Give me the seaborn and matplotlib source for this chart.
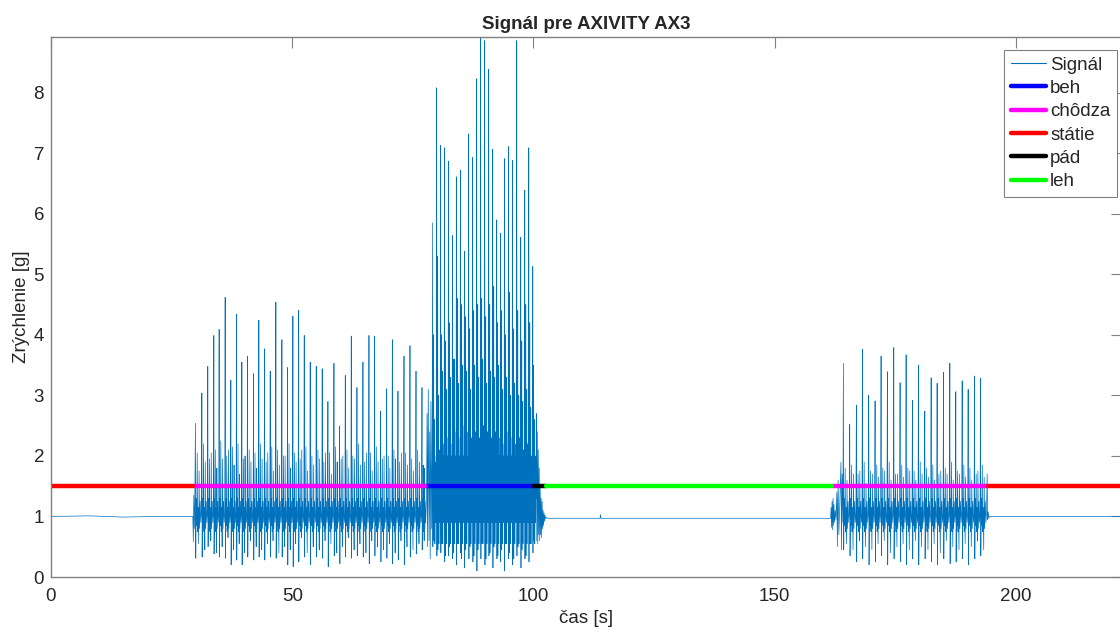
import numpy as np
import pandas as pd
import matplotlib
matplotlib.use("Agg")
import matplotlib.pyplot as plt
import seaborn as sns
from matplotlib.lines import Line2D

# ---------------- data ----------------
# walking 1 (chôdza): per stride big peak, deep trough, two medium peaks, second trough
walk1_peak_t = [29.94, 31.27, 32.50, 33.75, 34.85, 36.10, 37.28, 38.45, 39.56, 40.73,
                41.98, 43.08, 44.26, 45.44, 46.61, 47.86, 49.03, 50.14, 51.31, 52.49,
                53.73, 54.98, 56.22, 57.40, 58.65, 59.82, 61.00, 62.24, 63.42, 64.66,
                65.91, 67.08, 68.33, 69.57, 70.75, 71.92, 73.17, 74.41, 75.66, 76.90]
walk1_peak_g = [2.54, 3.04, 3.48, 3.99, 4.09, 4.62, 3.25, 4.34, 3.55, 3.65,
                3.36, 4.24, 3.77, 3.40, 4.54, 3.92, 3.46, 4.31, 4.41, 3.99,
                3.55, 3.48, 3.44, 2.90, 3.53, 2.49, 3.33, 3.98, 3.13, 3.55,
                3.99, 3.98, 2.74, 3.11, 3.92, 3.07, 3.65, 3.82, 3.40, 3.13]
walk1_trough_g = [0.31, 0.33, 0.50, 0.38, 0.33, 0.31, 0.20, 0.28, 0.20, 0.33,
                  0.28, 0.33, 0.28, 0.33, 0.31, 0.33, 0.20, 0.17, 0.25, 0.33,
                  0.20, 0.33, 0.31, 0.17, 0.35, 0.22, 0.33, 0.31, 0.35, 0.33,
                  0.22, 0.35, 0.25, 0.31, 0.22, 0.28, 0.20, 0.33, 0.38, 0.45]
walk1_med1_g = [2.05, 2.20, 1.95, 2.10, 2.25, 2.00, 2.15, 2.20, 1.95, 2.10,
                2.05, 2.20, 1.90, 2.15, 2.10, 2.00, 2.20, 2.05, 1.95, 2.15,
                2.00, 2.10, 1.90, 2.05, 2.15, 1.95, 2.10, 2.00, 2.20, 1.90,
                2.05, 2.15, 1.95, 2.00, 2.10, 1.90, 2.05, 1.95, 2.10, 1.85]
walk1_med2_g = [1.75, 1.90, 2.05, 1.80, 1.95, 2.10, 1.85, 1.70, 2.00, 1.90,
                1.80, 1.95, 2.05, 1.75, 1.85, 2.00, 1.80, 1.90, 2.10, 1.75,
                1.85, 1.95, 2.05, 1.70, 1.90, 2.00, 1.80, 1.95, 1.85, 2.05,
                1.75, 1.90, 2.00, 1.80, 1.95, 2.05, 1.85, 1.75, 1.90, 1.80]
walk1_trough2_g = [0.55, 0.45, 0.60, 0.40, 0.50, 0.65, 0.45, 0.55, 0.40, 0.60,
                   0.50, 0.45, 0.55, 0.60, 0.40, 0.50, 0.45, 0.55, 0.65, 0.40,
                   0.50, 0.45, 0.60, 0.55, 0.40, 0.50, 0.65, 0.45, 0.55, 0.40,
                   0.60, 0.50, 0.45, 0.55, 0.40, 0.60, 0.50, 0.45, 0.55, 0.60]
walk1_end = 77.8

# running (beh)
run_peak_t = [79.11, 79.94, 80.77, 81.54, 82.37, 83.20, 84.02, 84.85, 85.68, 86.58,
              87.41, 88.24, 89.07, 89.90, 90.73, 91.56, 92.39, 93.15, 93.98, 94.81,
              95.64, 96.54, 97.37, 98.20, 99.03, 99.86]
run_peak_g = [5.85, 8.08, 7.13, 7.09, 6.87, 5.64, 6.61, 6.72, 5.38, 7.32,
              6.93, 8.23, 8.92, 8.86, 8.39, 7.07, 5.90, 5.68, 6.91, 7.11,
              6.88, 8.86, 5.61, 6.39, 7.09, 5.13]
run_second_g = [4.0, 5.3, 4.0, 3.9, 4.2, 3.6, 4.6, 4.5, 4.3, 4.1,
                4.4, 4.5, 4.6, 4.3, 4.5, 4.8, 4.2, 4.4, 4.0, 4.7,
                4.1, 4.4, 3.9, 4.5, 4.2, 3.5]
run_trough_g = [0.50, 0.35, 0.40, 0.25, 0.35, 0.30, 0.20, 0.40, 0.15, 0.30,
                0.25, 0.10, 0.30, 0.20, 0.35, 0.15, 0.30, 0.25, 0.10, 0.30,
                0.20, 0.35, 0.15, 0.30, 0.25, 0.40]
run_med1_g = [2.9, 3.3, 3.6, 3.4, 3.8, 3.5, 3.9, 3.7, 3.6, 3.9,
              3.8, 3.5, 3.9, 3.7, 3.6, 3.8, 3.4, 3.7, 3.5, 3.6,
              3.3, 3.5, 3.2, 3.4, 3.0, 2.8]
run_med2_g = [2.1, 2.3, 2.4, 2.5, 2.5, 2.6, 2.6, 2.5, 2.7, 2.6,
              2.5, 2.7, 2.6, 2.6, 2.5, 2.6, 2.5, 2.6, 2.4, 2.5,
              2.4, 2.5, 2.3, 2.4, 2.3, 2.2]
run_med3_g = [1.9, 2.1, 2.2, 2.3, 2.2, 2.4, 2.3, 2.5, 2.4, 2.3,
              2.4, 2.3, 2.5, 2.4, 2.3, 2.4, 2.3, 2.2, 2.4, 2.3,
              2.2, 2.3, 2.1, 2.2, 2.0, 1.9]
run_third_g = [2.6, 3.0, 3.4, 3.1, 3.3, 3.6, 3.2, 3.5, 3.4, 3.1,
               3.5, 3.3, 3.6, 3.2, 3.4, 3.3, 3.5, 3.1, 3.3, 3.0,
               3.2, 3.0, 2.9, 3.1, 2.8, 2.6]
run_trough2_g = [0.60, 0.45, 0.55, 0.35, 0.50, 0.40, 0.55, 0.30, 0.45, 0.50,
                 0.35, 0.45, 0.55, 0.30, 0.40, 0.50, 0.35, 0.45, 0.55, 0.40,
                 0.30, 0.50, 0.45, 0.35, 0.55, 0.60]
run_end = 100.6

# walking 2 (chôdza)
walk2_peak_t = [164.25, 165.56, 166.94, 168.19, 169.50, 170.82, 172.06, 173.37, 174.69, 176.00,
                177.25, 178.56, 179.81, 181.12, 182.44, 183.68, 185.00, 186.31, 187.55, 188.87,
                190.11, 191.43, 192.67]
walk2_peak_g = [3.53, 2.52, 2.84, 3.76, 3.00, 2.91, 3.65, 3.39, 3.79, 3.21,
                3.67, 2.92, 3.50, 2.74, 3.29, 3.20, 3.38, 3.53, 3.06, 3.24,
                3.10, 3.32, 3.28]
walk2_trough_g = [0.45, 0.35, 0.25, 0.30, 0.20, 0.25, 0.35, 0.20, 0.30, 0.25,
                  0.20, 0.30, 0.20, 0.30, 0.25, 0.20, 0.30, 0.22, 0.25, 0.30,
                  0.20, 0.30, 0.35]
walk2_med1_g = [1.80, 1.85, 1.70, 1.90, 1.75, 1.85, 1.80, 1.90, 1.70, 1.85,
                1.80, 1.75, 1.90, 1.80, 1.85, 1.70, 1.80, 1.90, 1.75, 1.85,
                1.80, 1.70, 1.85]
walk2_med2_g = [1.60, 1.70, 1.75, 1.55, 1.70, 1.65, 1.75, 1.60, 1.70, 1.65,
                1.75, 1.60, 1.70, 1.65, 1.60, 1.75, 1.70, 1.60, 1.70, 1.65,
                1.60, 1.75, 1.65]
walk2_trough2_g = [0.55, 0.45, 0.60, 0.50, 0.45, 0.55, 0.60, 0.40, 0.50, 0.55,
                   0.45, 0.60, 0.50, 0.45, 0.55, 0.40, 0.60, 0.50, 0.45, 0.55,
                   0.50, 0.60, 0.45]
walk2_end = 194.0

# shape of one stride (fraction of stride, value or key of the per-stride arrays)
walk_stride_frac = [0.00, 0.05, 0.12, 0.20, 0.28, 0.34, 0.42, 0.50, 0.57, 0.64, 0.74, 0.84, 0.93]
walk_stride_g = ["P", "T", 1.30, 0.85, "M", 0.75, 1.15, "U", "N", 0.80, 1.25, 0.90, 1.05]
run_stride_frac = [0.00, 0.06, 0.12, 0.18, 0.25, 0.31, 0.37, 0.43, 0.50, 0.56,
                   0.62, 0.68, 0.75, 0.81, 0.88, 0.94]
run_stride_g = ["P", "T", "M", 0.70, "S", "U", "N", 1.10, "R", 0.55,
                "Q", 1.20, 1.80, 0.90, 2.00, 1.30]

# quiet parts and transitions
start_t = [0.0, 8.0, 15.0, 22.0, 29.4]
start_g = [1.0, 1.01, 0.99, 1.0, 1.0]
walk1_lead_t = [29.5, 29.6, 29.7, 29.8]
walk1_lead_g = [0.58, 1.35, 0.80, 1.20]
run_lead_t = [77.85, 77.95, 78.05, 78.2, 78.35, 78.5, 78.6, 78.75, 78.9, 79.0]
run_lead_g = [1.4, 2.7, 0.5, 3.1, 0.6, 2.4, 0.3, 2.9, 0.8, 1.9]
fall_t = [100.6, 100.7, 100.8, 100.9, 101.0, 101.1, 101.2, 101.3, 101.4, 101.5,
          101.6, 101.7, 101.8, 101.9, 102.0, 102.1, 102.2, 102.3, 102.4, 102.55, 102.7]
fall_g = [2.7, 0.6, 2.4, 0.55, 2.1, 0.7, 1.8, 0.6, 1.5, 0.7,
          1.3, 0.65, 1.25, 0.8, 1.1, 0.85, 1.06, 0.92, 1.02, 0.96, 0.98]
lie_t = [103.0, 113.8, 113.9, 114.0, 130.0, 145.0, 161.5]
lie_g = [0.97, 0.97, 1.03, 0.97, 0.97, 0.97, 0.97]
walk2_lead_t = [161.6, 161.7, 161.8, 161.9, 162.0, 162.1, 162.2, 162.3, 162.4, 162.55,
                162.7, 162.9, 163.0, 163.15, 163.3, 163.5, 163.75, 163.85, 164.0, 164.15]
walk2_lead_g = [0.97, 1.15, 0.82, 1.25, 0.78, 1.30, 0.85, 1.20, 0.90, 1.10,
                0.95, 1.40, 0.50, 1.60, 0.70, 1.20, 1.90, 0.45, 1.70, 0.90]
tail_t = [194.05, 194.15, 194.25, 194.4, 194.6, 205.0, 215.0, 222.0]
tail_g = [1.70, 0.95, 1.08, 0.97, 1.0, 1.0, 1.0, 1.0]

# activity labels
label_names = ["státie", "chôdza", "beh", "pád", "leh", "chôdza", "státie"]
label_start = [0.0, 29.5, 77.6, 100.1, 102.6, 161.8, 194.3]
label_end = [29.5, 77.6, 100.1, 102.6, 161.8, 194.3, 222.0]
label_level = 1.5

legend_order = ["beh", "chôdza", "státie", "pád", "leh"]
legend_colors = ["#0000FF", "#FF00FF", "#FF0000", "#000000", "#00FF00"]

x_ticks = [0, 50, 100, 150, 200]
y_ticks = [0, 1, 2, 3, 4, 5, 6, 7, 8]


# ---------------- build the signal table ----------------
def strides(peak_t, end, frac, shape, values):
    ts, gs = [], []
    for i, t0 in enumerate(peak_t):
        t1 = peak_t[i + 1] if i + 1 < len(peak_t) else end
        for f, v in zip(frac, shape):
            if isinstance(v, str):
                v = values[v][i]
            ts.append(t0 + f * (t1 - t0))
            gs.append(v)
    return ts, gs


w1_t, w1_g = strides(walk1_peak_t, walk1_end, walk_stride_frac, walk_stride_g,
                     {"P": walk1_peak_g, "T": walk1_trough_g, "M": walk1_med1_g,
                      "N": walk1_med2_g, "U": walk1_trough2_g})
r_t, r_g = strides(run_peak_t, run_end, run_stride_frac, run_stride_g,
                   {"P": run_peak_g, "T": run_trough_g, "M": run_med1_g,
                    "N": run_med2_g, "U": run_trough2_g, "S": run_second_g,
                    "R": run_third_g, "Q": run_med3_g})
w2_t, w2_g = strides(walk2_peak_t, walk2_end, walk_stride_frac, walk_stride_g,
                     {"P": walk2_peak_g, "T": walk2_trough_g, "M": walk2_med1_g,
                      "N": walk2_med2_g, "U": walk2_trough2_g})

sig_t = (start_t + walk1_lead_t + w1_t + run_lead_t + r_t + fall_t + lie_t
         + walk2_lead_t + w2_t + tail_t)
sig_g = (start_g + walk1_lead_g + w1_g + run_lead_g + r_g + fall_g + lie_g
         + walk2_lead_g + w2_g + tail_g)
signal = pd.DataFrame({"t": sig_t, "g": sig_g})

rows = []
for k, (n, a, b) in enumerate(zip(label_names, label_start, label_end)):
    rows.append({"t": a, "y": label_level, "activity": n, "seg": k})
    rows.append({"t": b, "y": label_level, "activity": n, "seg": k})
labels = pd.DataFrame(rows)
palette = dict(zip(legend_order, legend_colors))

# ---------------- plot ----------------
sns.set_style("white")
plt.rcParams["font.family"] = ["Liberation Sans", "DejaVu Sans"]

fig = plt.figure(figsize=(11.2, 6.3), dpi=100)
ax = fig.add_axes([51 / 1120, 53 / 630, 1071 / 1120, 540 / 630])

sig_color = "#0072BD"
sns.lineplot(data=signal, x="t", y="g", sort=False, estimator=None,
             color=sig_color, linewidth=0.5, ax=ax)
sns.lineplot(data=labels, x="t", y="y", hue="activity", hue_order=legend_order,
             palette=palette, units="seg", estimator=None, sort=False,
             linewidth=3.2, legend=False, ax=ax)

ax.set_xlim(0, 222)
ax.set_ylim(0, 8.92)
ax.set_xticks(x_ticks)
ax.set_yticks(y_ticks)

grey = "#808080"
for s in ax.spines.values():
    s.set_color(grey)
    s.set_linewidth(1.0)
ax.tick_params(axis="both", direction="in", length=8, width=0.8, color=grey,
               labelsize=13.5, labelcolor="#262626", top=True, right=True)
ax.tick_params(axis="x", pad=8)
ax.tick_params(axis="y", pad=5)

ax.set_title("Signál pre AXIVITY AX3", fontsize=13.5, fontweight="bold", pad=6)
ax.set_xlabel("čas [s]", fontsize=13.5, color="#262626")
ax.set_ylabel("Zrýchlenie [g]", fontsize=13.5, color="#262626")
ax.xaxis.set_label_coords(0.5, -0.061)
ax.yaxis.set_label_coords(-0.0195, 0.5)

handles = [Line2D([], [], color=sig_color, linewidth=0.8)]
handles += [Line2D([], [], color=c, linewidth=3.2) for c in legend_colors]
names = ["Signál"] + legend_order
leg = ax.legend(handles, names, loc="upper right",
                bbox_to_anchor=((1117 - 51) / 1071, (577 - 50) / 540),
                borderaxespad=0, fontsize=13.5, frameon=True, fancybox=False,
                edgecolor="#808080", framealpha=1, handlelength=1.9,
                handletextpad=0.2, labelspacing=0.33, borderpad=0.35)
leg.get_frame().set_linewidth(0.8)

fig.savefig("out.png", dpi=100)
